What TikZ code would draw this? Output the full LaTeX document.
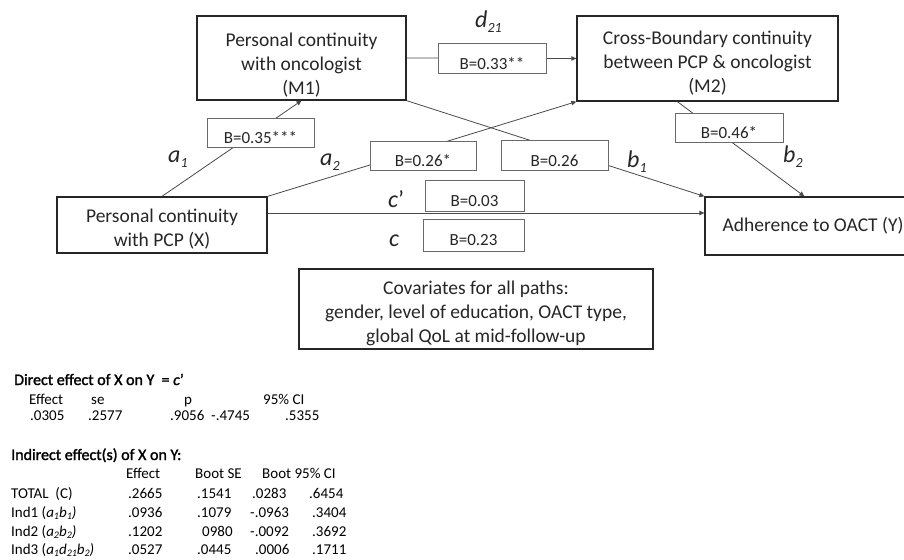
\documentclass[tikz,border=0pt]{standalone}
\usepackage{fontspec}
\setmainfont{Carlito}
\newfontfamily\boldcal{Carlito}[FakeBold=1.6]
\usetikzlibrary{arrows.meta,calc}
\definecolor{ink}{HTML}{262626}
\definecolor{edge}{HTML}{4A4A4A}
\definecolor{lblline}{HTML}{6A6A6A}
\newcommand\shifted[2]{\raisebox{-#1}[\height][\depth]{\begin{tabular}{@{}c@{}}#2\end{tabular}}}
\newcommand\lowr[1]{\raisebox{-5.5pt}[\height][\depth]{#1}}
\newcommand\pl[2]{\textit{#1}\raisebox{-5pt}{\fontsize{14}{14}\selectfont\textit{#2}}}
\newcommand\ts[2]{\textit{#1}\raisebox{-2.5pt}{\fontsize{10}{10}\selectfont\textit{#2}}}
\newcommand\tblhead[1]{{\boldcal\fontsize{16}{18}\selectfont #1}}
\begin{document}
\begin{tikzpicture}[x=1pt,y=-1pt,
  mainbox/.style={draw=ink, line width=1.3pt, rectangle, inner sep=0pt, text=ink, font=\fontsize{19.5}{24}\selectfont},
  coefbox/.style={draw=lblline, line width=0.7pt, fill=white, rectangle, inner sep=0pt, text=ink, font=\fontsize{17}{20}\selectfont},
  pathlbl/.style={anchor=base west, inner sep=0pt, text=ink, font=\fontsize{24}{28}\selectfont},
  conn/.style={draw=edge, line width=0.8pt},
  arr/.style={conn, -{Triangle[length=5pt,width=4.5pt]}},
  tbl/.style={anchor=base west, inner sep=0pt, font=\fontsize{15}{18}\selectfont, text=black}
]
\useasboundingbox (0,0) rectangle (904,559);

% main boxes
\node[mainbox, minimum width=209, minimum height=84] (M1) at (301.5,58) {\shifted{8pt}{Personal continuity\\with oncologist\\(M1)}};
\node[mainbox, minimum width=261, minimum height=85] (M2) at (707.5,58.5) {\shifted{5pt}{Cross-Boundary continuity\\between PCP \& oncologist\\(M2)}};
\node[mainbox, minimum width=210, minimum height=56] (X) at (162,225) {\shifted{4.5pt}{Personal continuity\\with PCP (X)}};
\node[mainbox, minimum width=216, minimum height=58] (Y) at (813,226) {Adherence to OACT (Y)};
\node[mainbox, minimum width=354, minimum height=80] (Cov) at (476,309) {\shifted{4.5pt}{Covariates for all paths:\\gender, level of education, OACT type,\\global QoL at mid-follow-up}};

% helper coordinates
\coordinate (M2b) at ($(M2.south west)+(101,0)$);
\coordinate (Yb) at ($(Y.north west)+(100,0)$);
\coordinate (Xc) at ($(X.east)+(0,-12)$);

% connectors
\draw[arr] (X.north) -- (M1.south);
\draw[arr] (X.north east) -- (M2.south west);
\draw[arr] (M1.south east) -- (Y.north west);
\draw[arr] (M2b) -- (Yb);
\draw[arr] (M1.east) -- (M2.west);
\draw[arr] (Xc) -- (Xc -| Y.west);

% coefficient boxes
\node[coefbox, minimum width=107, minimum height=29] (la1) at (260.5,132.5) {\lowr{B=0.35***}};
\node[coefbox, minimum width=106, minimum height=29] (la2) at (423,155.5) {\lowr{B=0.26*}};
\node[coefbox, minimum width=107, minimum height=30] (lb1) at (554.5,155) {\lowr{B=0.26}};
\node[coefbox, minimum width=108, minimum height=29] (lb2) at (729,127.5) {\lowr{B=0.46*}};
\node[coefbox, minimum width=108, minimum height=30] (ld) at (492,58) {\lowr{B=0.33**}};
\node[coefbox, minimum width=99, minimum height=31] (lcp) at (474.5,195.5) {\lowr{B=0.03}};
\node[coefbox, minimum width=101, minimum height=32] (lc) at (473.5,235) {\lowr{B=0.23}};

% path labels
\node[pathlbl] (pa1) at (168,162) {\pl{a}{1}};
\node[pathlbl] (pa2) at (320,165) {\pl{a}{2}};
\node[pathlbl] (pd) at (475,28) {\pl{d}{21}};
\node[pathlbl] (pb1) at (627,167) {\pl{b}{1}};
\node[pathlbl] (pb2) at (783,162) {\pl{b}{2}};
\node[pathlbl] (pcp) at (388,207) {\textit{c}’};
\node[pathlbl] (pc) at (389,246) {\textit{c}};

% direct effect table
\node[tbl] (d0) at (14,385) {\tblhead{Direct effect of X on Y\ \ = \textit{c}’}};
\node[tbl] (dh1) at (29,404) {Effect};
\node[tbl] (dh2) at (91,404) {se};
\node[tbl] (dh3) at (184,404) {p};
\node[tbl] (dh4) at (263,404) {95\% CI};
\node[tbl] (dv1) at (30,420) {.0305};
\node[tbl] (dv2) at (88,420) {.2577};
\node[tbl] (dv3) at (170,420) {.9056};
\node[tbl] (dv4) at (211,420) {-.4745};
\node[tbl] (dv5) at (285,420) {.5355};

% indirect effect table
\node[tbl] (i0) at (11,460) {\tblhead{Indirect effect(s) of X on Y:}};
\node[tbl] (ih1) at (126,478) {Effect};
\node[tbl] (ih2) at (195,478) {Boot SE};
\node[tbl] (ih3) at (262,478) {Boot 95\% CI};

\node[tbl] (r1a) at (11,498) {TOTAL\ \ (C)};
\node[tbl] (r1b) at (128,498) {.2665};
\node[tbl] (r1c) at (197,498) {.1541};
\node[tbl] (r1d) at (252,498) {.0283};
\node[tbl] (r1e) at (309,498) {.6454};

\node[tbl] (r2a) at (11,517) {Ind1 (\ts{a}{1}\ts{b}{1}\textit{)}};
\node[tbl] (r2b) at (128,517) {.0936};
\node[tbl] (r2c) at (197,517) {.1079};
\node[tbl] (r2d) at (250,517) {-.0963};
\node[tbl] (r2e) at (312,517) {.3404};

\node[tbl] (r3a) at (11,536) {Ind2 (\ts{a}{2}\ts{b}{2}\textit{)}};
\node[tbl] (r3b) at (128,536) {.1202};
\node[tbl] (r3c) at (202,536) {0980};
\node[tbl] (r3d) at (250,536) {-.0092};
\node[tbl] (r3e) at (312,536) {.3692};

\node[tbl] (r4a) at (11,554) {Ind3 (\ts{a}{1}\ts{d}{21}\ts{b}{2}\textit{)}};
\node[tbl] (r4b) at (128,554) {.0527};
\node[tbl] (r4c) at (197,554) {.0445};
\node[tbl] (r4d) at (255,554) {.0006};
\node[tbl] (r4e) at (312,554) {.1711};
\end{tikzpicture}
\end{document}
